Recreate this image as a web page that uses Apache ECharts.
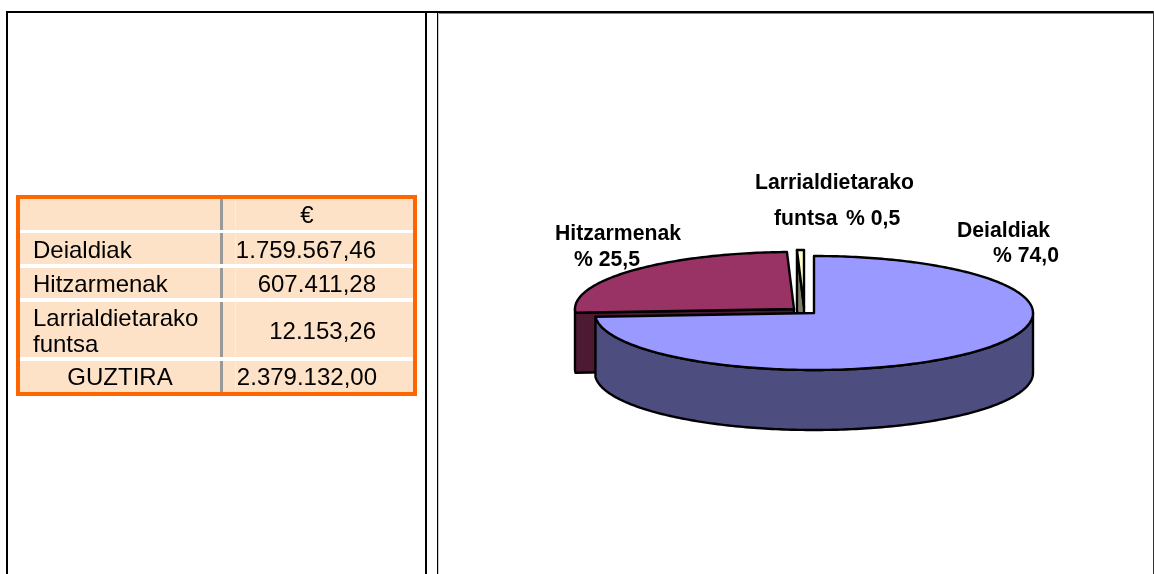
<!DOCTYPE html>
<html>
<head>
<meta charset="utf-8">
<style>
html, body { margin: 0; padding: 0; background: #fff; overflow: hidden; }
#main { width: 1154px; height: 574px; }
</style>
<script src="https://cdn.jsdelivr.net/npm/echarts@6/dist/echarts.min.js"></script>
</head>
<body>
<div id="main"></div>
<script>
// chart data
var categories = ['Deialdiak', 'Hitzarmenak', 'Larrialdietarako funtsa']
var amounts = [1759567.46, 607411.28, 12153.26]
var percentLabels = ['% 74,0', '% 25,5', '% 0,5']

// table text
var tableHead = '€'
var tableNames = ['Deialdiak', 'Hitzarmenak', 'Larrialdietarako\nfuntsa', 'GUZTIRA']
var tableValues = ['1.759.567,46', '607.411,28', '12.153,26', '2.379.132,00']

// pie look
var topColors = ['#9999ff', '#993366', '#ffffcc']
var sideColors = ['#4d4d80', '#4d1a33', '#808066']
var pieCenters = [[814, 313], [794, 309], [804, 307]]
var rx = 219, ry = 57, depth = 60
var labelFont = 'bold 21.2px "Liberation Sans", Arial, sans-serif'
var tableFont = '24px "Liberation Sans", Arial, sans-serif'

var total = amounts.reduce(function (a, b) { return a + b }, 0)

function pt (c, deg, dy) {
	var r = deg * Math.PI / 180
	return [c[0] + rx * Math.sin(r), c[1] - ry * Math.cos(r) + (dy || 0)]
}
// points along the rim, clockwise from a0 to a1
function rim (c, a0, a1, dy) {
	var pts = []
	for (var a = a0; a < a1; a += 1) pts.push(pt(c, a, dy))
	pts.push(pt(c, a1, dy))
	return pts
}

// angles clockwise from 12 o'clock
function sliceAngles (idx) {
	var start = 0
	for (var i = 0; i < idx; i++) start += amounts[i] / total * 360
	return [start, start + amounts[idx] / total * 360]
}

function renderSlice (params, api) {
	var idx = params.dataIndex
	var a = sliceAngles(idx)
	var c = pieCenters[idx]
	var lineStyle = { stroke: '#000', lineWidth: 2.4, lineJoin: 'round' }
	var side
	if (idx === 0) {
		// front rim from the right edge round to the end of the slice
		side = rim(c, 90, a[1]).concat(rim(c, 90, a[1], depth).reverse())
	} else if (idx === 1) {
		// cut face, with the bit of rim at the far left
		side = [c].concat(rim(c, a[0], 270), rim(c, a[0], 270, depth).reverse(), [[c[0], c[1] + depth]])
	} else {
		var p0 = pt(c, a[0])
		side = [p0, c, [c[0], c[1] + depth], [p0[0], p0[1] + depth]]
	}
	var z = (2 - idx) * 2
	return {
		type: 'group',
		children: [
			{ type: 'polygon', z2: z + 1, shape: { points: side }, style: Object.assign({ fill: sideColors[idx] }, lineStyle) },
			{ type: 'polygon', z2: z + 2, shape: { points: [c].concat(rim(c, a[0], a[1])) }, style: Object.assign({ fill: api.visual('color') }, lineStyle) }
		]
	}
}

// chart labels, split over two lines like the original
var labelRows = [
	{ text: categories[0], x: 957, y: 231, align: 'left' },
	{ text: percentLabels[0], x: 1059, y: 256, align: 'right' },
	{ text: categories[1], x: 555, y: 234, align: 'left' },
	{ text: percentLabels[1], x: 574, y: 260, align: 'left' },
	{ text: categories[2].split(' ')[0], x: 755, y: 183, align: 'left' },
	{ text: categories[2].split(' ')[1], x: 774, y: 219, align: 'left' },
	{ text: percentLabels[2], x: 846, y: 219, align: 'left' }
]

var els = []
function rect (x, y, w, h, fill) {
	els.push({ type: 'rect', silent: true, shape: { x: x, y: y, width: w, height: h }, style: { fill: fill } })
}
function text (str, x, y, font, align) {
	els.push({ type: 'text', silent: true, z: 20, style: { text: str, x: x, y: y, font: font, fill: '#000', textAlign: align, textVerticalAlign: 'middle' } })
}

// page frame
rect(438, 13, 716, 1, '#888')
rect(438, 13, 1, 561, '#ccc')
rect(6, 11, 1148, 2, '#000')
rect(6, 11, 2, 563, '#000')
rect(425, 11, 2, 563, '#000')
rect(437, 11, 1, 563, '#000')
rect(1153, 11, 1, 563, '#333')

// table
rect(16, 195, 401, 201, '#ff6600')
rect(20, 199, 393, 193, '#fde2c8')
var rowSeps = [[230, 3], [264, 4], [298, 4], [357, 4]]
rowSeps.forEach(function (s) { rect(20, s[0], 393, s[1], '#fff') })
var colRows = [[199, 31], [233, 31], [268, 30], [302, 55], [361, 31]]
colRows.forEach(function (r) {
	rect(220, r[0], 3, r[1], '#999')
	rect(235, r[0] + 1, 1, r[1] - 2, '#feecdc')
})

text(tableHead, 307, 216, tableFont, 'center')
var rowY = [251, 285, 332, 378]
tableNames.forEach(function (n, i) {
	if (i === 2) {
		var parts = n.split('\n')
		text(parts[0], 33, 319, tableFont, 'left')
		text(parts[1], 33, 345, tableFont, 'left')
	} else if (i === 3) {
		text(n, 120, rowY[i], tableFont, 'center')
	} else {
		text(n, 33, rowY[i], tableFont, 'left')
	}
})
tableValues.forEach(function (v, i) {
	text(v, i === 3 ? 377 : 376, rowY[i], tableFont, 'right')
})

labelRows.forEach(function (l) { text(l.text, l.x, l.y, labelFont, l.align) })

var myCharts = echarts.init(document.getElementById('main'), null, { renderer: 'canvas' })
myCharts.setOption({
	animation: false,
	backgroundColor: '#fff',
	graphic: { elements: els },
	series: [{
		type: 'custom',
		coordinateSystem: 'none',
		silent: true,
		renderItem: renderSlice,
		data: amounts.map(function (v, i) {
			return { name: categories[i], value: v, itemStyle: { color: topColors[i] } }
		})
	}]
})
</script>
</body>
</html>
